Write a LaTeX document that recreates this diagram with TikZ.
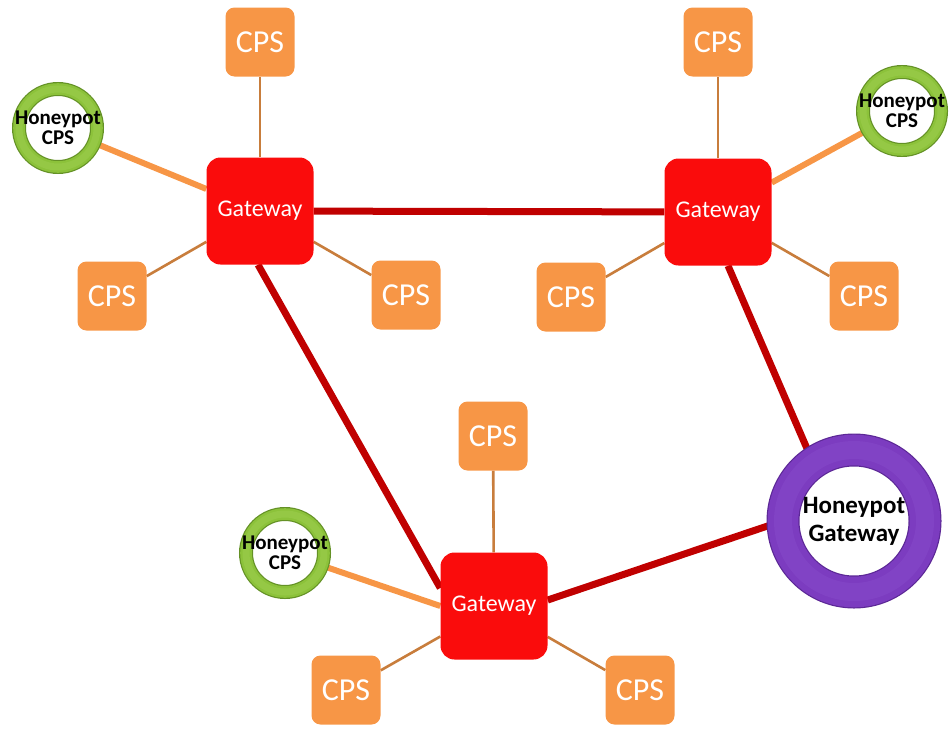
\documentclass[tikz,border=0pt]{standalone}
\usepackage{fontspec}
\setmainfont{Carlito}
\usetikzlibrary{backgrounds,calc}
\definecolor{gwred}{RGB}{250,12,12}
\definecolor{cpsorange}{RGB}{247,150,70}
\definecolor{linkred}{RGB}{192,0,0}
\definecolor{spoke}{RGB}{200,125,60}
\definecolor{hpgreen}{RGB}{140,194,58}
\definecolor{hpgreenlight}{RGB}{170,215,95}
\definecolor{hpgreendark}{RGB}{100,145,38}
\definecolor{hppurple}{RGB}{124,60,192}
\definecolor{hppurplelight}{RGB}{150,95,215}
\definecolor{hppurpledark}{RGB}{92,40,150}
\begin{document}
\begin{tikzpicture}[x=1pt,y=-1pt,
  gateway/.style={rectangle,rounded corners=14pt,fill=gwred,minimum size=107pt,
    inner sep=0pt,text=white,font=\fontsize{24}{26}\selectfont},
  cps/.style={rectangle,rounded corners=9pt,fill=cpsorange,minimum size=69pt,
    inner sep=0pt,text=white,font=\fontsize{32}{34}\selectfont},
  hpcps/.style={circle,inner sep=0pt,minimum size=78pt,fill=white,
    draw=hpgreendark,line width=1.2pt,double=hpgreen,double distance=11.6pt},
  hpgw/.style={circle,inner sep=0pt,minimum size=142pt,fill=white,
    draw=hppurpledark,line width=1.2pt,double=hppurple,double distance=30.6pt},
  hpsmall/.style={align=center,font=\bfseries\fontsize{21}{21}\selectfont},
  hpbig/.style={align=center,font=\bfseries\fontsize{25}{28}\selectfont},
  backbone/.style={draw=linkred,line width=7pt},
  spokeline/.style={draw=spoke,line width=2.6pt},
  hplink/.style={draw=cpsorange,line width=6pt}]
\useasboundingbox (0,0) rectangle (949,728);

% gateways
\node[gateway] (g1) at (260,211) {Gateway};
\node[gateway] (g2) at (718,212) {Gateway};
\node[gateway] (g3) at (494,606) {Gateway};

% CPS devices
\node[cps] (c1t) at (260,42) {CPS};
\node[cps] (c1l) at (112,296) {CPS};
\node[cps] (c1r) at (406,295) {CPS};
\node[cps] (c2t) at (718,42) {CPS};
\node[cps] (c2l) at (571,297) {CPS};
\node[cps] (c2r) at (864,296) {CPS};
\node[cps] (c3t) at (493,436) {CPS};
\node[cps] (c3l) at (346,690) {CPS};
\node[cps] (c3r) at (640,690) {CPS};

% honeypots, with a soft highlight along each ring
\node[hpcps] (h1) at (58,128) {};
\node[hpcps] (h2) at (902,111) {};
\node[hpcps] (h3) at (285,553) {};
\node[hpgw] (hg) at (854,521) {};
\foreach \h in {h1,h2,h3}
  \draw[hpgreenlight,line width=7pt,opacity=0.3] (\h) circle (39pt);
\draw[hppurplelight,line width=18pt,opacity=0.22] (hg) circle (71pt);
\node[hpsmall] at (h1) {Honeypot\\[-1pt]CPS};
\node[hpsmall] at (h2) {Honeypot\\[-1pt]CPS};
\node[hpsmall] at (h3) {Honeypot\\[-1pt]CPS};
\node[hpbig] at (hg) {Honeypot\\Gateway};

% links
\begin{scope}[on background layer]
  \draw[backbone] (g1) -- (g2);
  \draw[backbone] ($(g1.south)+(-2,0)$) -- ($(g3.west)+(0,-18)$);
  \draw[backbone] ($(g2.south)+(10,0)$) -- (hg.125);
  \draw[backbone] ($(g3.east)+(0,-6)$) -- (hg.west);
  \foreach \g/\c in {g1/c1t,g1/c1l,g1/c1r,g2/c2t,g2/c2l,g2/c2r,g3/c3t,g3/c3l,g3/c3r}
    \draw[spokeline] (\g) -- (\c);
  \draw[hplink] (g1) -- (h1);
  \draw[hplink] (g2) -- (h2);
  \draw[hplink] (g3.west) -- (h3);
\end{scope}
\end{tikzpicture}
\end{document}
